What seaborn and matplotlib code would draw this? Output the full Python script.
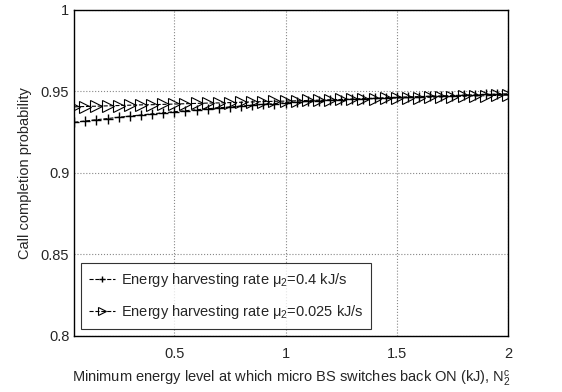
import numpy as np
import pandas as pd
import matplotlib
matplotlib.use("Agg")
import matplotlib.pyplot as plt
import seaborn as sns

# --- data ---
x_vals = [0.05, 0.10, 0.15, 0.20, 0.25, 0.30, 0.35, 0.40, 0.45, 0.50,
          0.55, 0.60, 0.65, 0.70, 0.75, 0.80, 0.85, 0.90, 0.95, 1.00,
          1.05, 1.10, 1.15, 1.20, 1.25, 1.30, 1.35, 1.40, 1.45, 1.50,
          1.55, 1.60, 1.65, 1.70, 1.75, 1.80, 1.85, 1.90, 1.95, 2.00]

rate_04 = [0.9310, 0.9318, 0.9326, 0.9333, 0.9341, 0.9348, 0.9355, 0.9362, 0.9368, 0.9375,
           0.9381, 0.9387, 0.9393, 0.9399, 0.9404, 0.9410, 0.9415, 0.9420, 0.9425, 0.9430,
           0.9434, 0.9438, 0.9442, 0.9446, 0.9449, 0.9452, 0.9455, 0.9458, 0.9461, 0.9463,
           0.9466, 0.9468, 0.9470, 0.9472, 0.9474, 0.9477, 0.9479, 0.9481, 0.9483, 0.9485]

rate_0025 = [0.9405, 0.9407, 0.9409, 0.9411, 0.9413, 0.9415, 0.9417, 0.9418, 0.9420, 0.9422,
             0.9424, 0.9426, 0.9428, 0.9429, 0.9431, 0.9433, 0.9435, 0.9437, 0.9439, 0.9440,
             0.9442, 0.9444, 0.9446, 0.9448, 0.9450, 0.9451, 0.9453, 0.9455, 0.9457, 0.9459,
             0.9461, 0.9462, 0.9464, 0.9466, 0.9468, 0.9470, 0.9472, 0.9473, 0.9475, 0.9477]

labels = ["Energy harvesting rate μ$_2$=0.4 kJ/s",
          "Energy harvesting rate μ$_2$=0.025 kJ/s"]
x_ticks = [0.5, 1, 1.5, 2]
x_tick_labels = ["0.5", "1", "1.5", "2"]
y_ticks = [0.8, 0.85, 0.9, 0.95, 1]
y_tick_labels = ["0.8", "0.85", "0.9", "0.95", "1"]

sns.set_style("white")
plt.rcParams["font.family"] = ["Liberation Sans", "DejaVu Sans"]
plt.rcParams["mathtext.fontset"] = "custom"
plt.rcParams["mathtext.rm"] = "Liberation Sans"
plt.rcParams["mathtext.it"] = "Liberation Sans"

fig = plt.figure(figsize=(5.62, 3.92), dpi=100)
ax = fig.add_axes([0.132, 0.143, 0.772, 0.832])

df1 = pd.DataFrame({"x": x_vals, "y": rate_04})
df2 = pd.DataFrame({"x": x_vals, "y": rate_0025})

sns.lineplot(data=df1, x="x", y="y", ax=ax, color="black", linestyle="--",
             linewidth=0.8, marker="+", markersize=7.5, markeredgewidth=1.0,
             markeredgecolor="black", label=labels[0])
sns.lineplot(data=df2, x="x", y="y", ax=ax, color="black", linestyle="--",
             linewidth=0.8, marker=">", markersize=8, markerfacecolor="none",
             markeredgecolor="black", markeredgewidth=0.8, label=labels[1])

ax.set_xlim(0.05, 2)
ax.set_ylim(0.8, 1)
ax.set_xticks(x_ticks)
ax.set_xticklabels(x_tick_labels)
ax.set_yticks(y_ticks)
ax.set_yticklabels(y_tick_labels)
ax.tick_params(direction="in", length=4, width=0.8, labelsize=10.5, color="black")
ax.tick_params(axis="x", pad=8)
ax.grid(True, linestyle=":", color="#888888", linewidth=0.8)

for sp in ax.spines.values():
    sp.set_color("black")
    sp.set_linewidth(1.0)

ax.set_xlabel("Minimum energy level at which micro BS switches back ON (kJ), N$_2^c$",
              fontsize=10.5, labelpad=6)
ax.set_ylabel("Call completion probability", fontsize=10.5, labelpad=6)

leg = ax.legend(loc="lower left", fontsize=10.5, frameon=True, fancybox=False,
                edgecolor="black", handlelength=1.8, borderaxespad=0.5,
                labelspacing=1.0, handletextpad=0.4, borderpad=0.5,
                markerscale=0.65)
leg.get_frame().set_linewidth(0.8)

fig.savefig("out.png", dpi=100)
